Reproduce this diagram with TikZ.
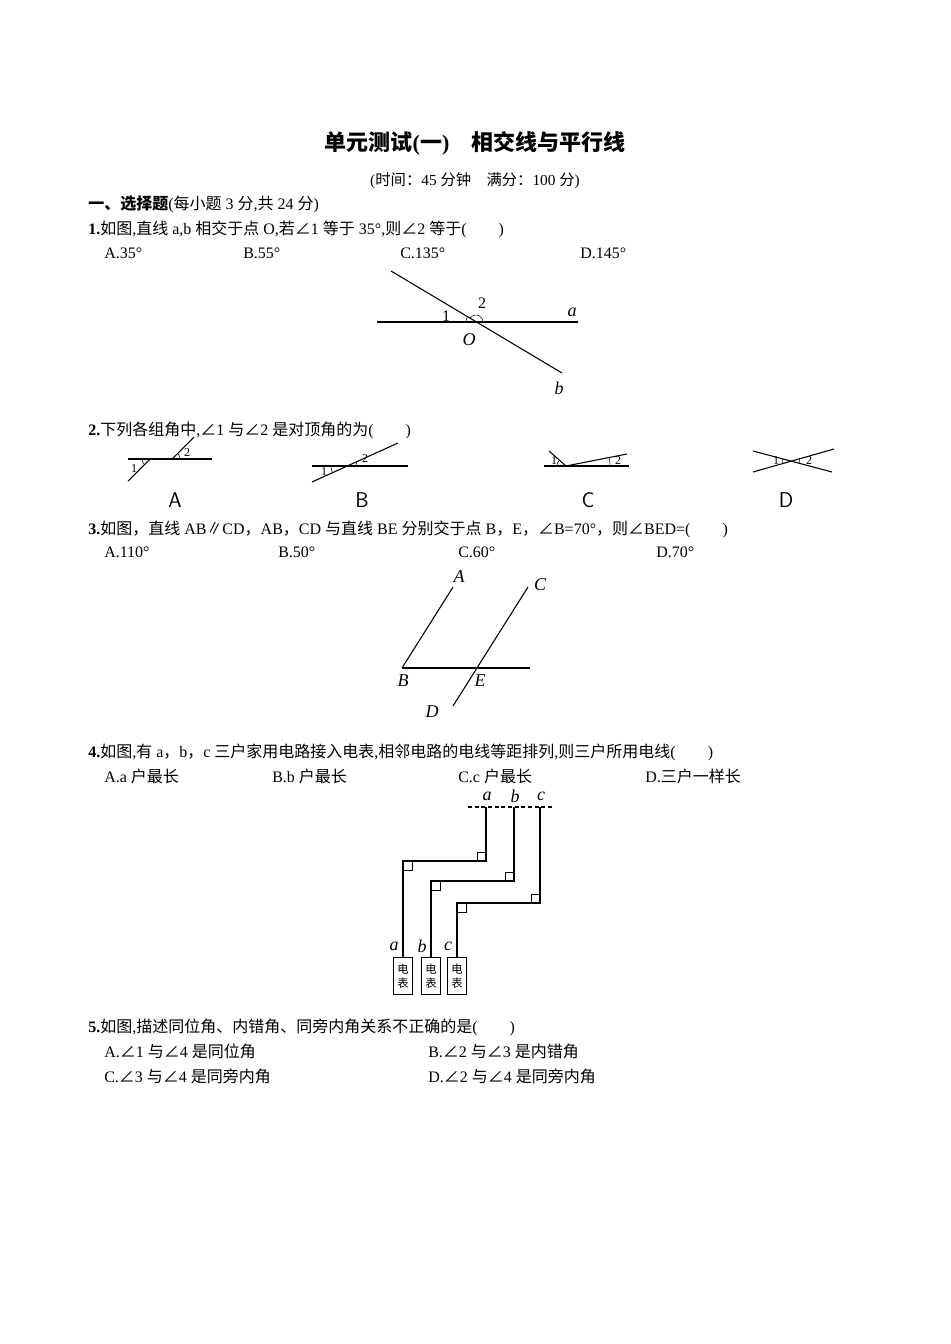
\documentclass[tikz,border=0pt]{standalone}
\usepackage{fontspec}
\setmainfont{Liberation Serif}
\newfontfamily\cjk{Noto Sans CJK SC}
\XeTeXinterchartokenstate=1
\newXeTeXintercharclass\cjkcls
\newcount\cjkc
\def\cjkrange#1#2{\cjkc=#1 \loop \XeTeXcharclass\cjkc=\cjkcls \advance\cjkc 1 \ifnum\cjkc<#2 \repeat}
\cjkrange{"4E00}{"9FA6}
\cjkrange{"3000}{"3040}
\cjkrange{"FF00}{"FFF0}
\XeTeXcharclass"2220=\cjkcls
\XeTeXcharclass"2225=\cjkcls
\XeTeXinterchartoks 0 \cjkcls = {\begingroup\cjk}
\XeTeXinterchartoks 4095 \cjkcls = {\begingroup\cjk}
\XeTeXinterchartoks \cjkcls 0 = {\endgroup}
\XeTeXinterchartoks \cjkcls 4095 = {\endgroup}
\tikzset{
  txt/.style={anchor=west, inner sep=0pt, font=\fontsize{12}{14}\selectfont},
  lbl/.style={inner sep=0pt, font=\fontsize{13.5}{15}\selectfont\itshape},
  sml/.style={inner sep=0pt, font=\fontsize{9}{10}\selectfont},
  opt/.style={inner sep=0pt, font=\fontsize{16}{18}\sffamily},
  ln/.style={line width=0.8pt},
}
\begin{document}
\begin{tikzpicture}[x=0.75pt, y=-0.75pt]
  \useasboundingbox (0,0) rectangle (950,1344);
  % heading
  \node[inner sep=0pt, font=\fontsize{16.5}{20}\selectfont\bfseries] (title) at (475,143) {单元测试(一)　相交线与平行线};
  \node[inner sep=0pt, font=\fontsize{11.5}{13}\selectfont] (time) at (475,181) {(时间：45 分钟　满分：100 分)};
  \node[txt] (sec) at (88,204) {\textbf{一、选择题}(每小题 3 分,共 24 分)};
  % question 1
  \node[txt] (q1) at (88,229) {\textbf{1.}如图,直线 a,b 相交于点 O,若∠1 等于 35°,则∠2 等于(　　)};
  \node[txt] (q1a) at (104,253) {A.35°};
  \node[txt] (q1b) at (243,253) {B.55°};
  \node[txt] (q1c) at (400,253) {C.135°};
  \node[txt] (q1d) at (580,253) {D.145°};
  \coordinate (o) at (476,322);
  \coordinate (al) at (377,322);
  \coordinate (ar) at (578,322);
  \coordinate (bt) at (391,271);
  \coordinate (bb) at (562,373);
  \draw[ln] (al) -- (ar);
  \draw[ln] (bt) -- (bb);
  \draw ([shift={(180:10)}]o) arc[start angle=180, end angle=211, radius=10];
  \draw ([shift={(211:7)}]o) arc[start angle=211, end angle=360, radius=7];
  \node[sml, font=\fontsize{12}{14}\selectfont] (one) at (446,316) {1};
  \node[sml, font=\fontsize{12}{14}\selectfont] (two) at (482,303) {2};
  \node[lbl] (la) at (572,312) {a};
  \node[lbl] (lo) at (469,340) {O};
  \node[lbl] (lb) at (559,388) {b};
  % question 2
  \node[txt] (q2) at (88,430) {\textbf{2.}下列各组角中,∠1 与∠2 是对顶角的为(　　)};
  % A
  \coordinate (pa1) at (150,459);
  \coordinate (pa2) at (172,459);
  \draw[ln] (128,459) -- (212,459);
  \draw[ln] (128,481) -- (pa1);
  \draw[ln] (pa2) -- (194,437);
  \draw ([shift={(135:8)}]pa1) arc[start angle=135, end angle=180, radius=8];
  \draw ([shift={(-45:8)}]pa2) arc[start angle=-45, end angle=0, radius=8];
  \node[sml] (a1) at (134,469) {1};
  \node[sml] (a2) at (187,453) {2};
  \node[opt] (ca) at (175,500) {A};
  % B
  \coordinate (pb) at (347,466);
  \draw[ln] (312,466) -- (408,466);
  \draw[ln] (312,482) -- (398,443);
  \draw ([shift={(155:16)}]pb) arc[start angle=155, end angle=180, radius=16];
  \draw ([shift={(-25:10)}]pb) arc[start angle=-25, end angle=0, radius=10];
  \node[sml] (b1) at (324,472) {1};
  \node[sml] (b2) at (365,459) {2};
  \node[opt] (cb) at (362,500) {B};
  % C
  \coordinate (pc) at (566,466);
  \draw[ln] (544,466) -- (629,466);
  \draw[ln] (549,451) -- (pc) -- (627,454);
  \draw ([shift={(180:9)}]pc) arc[start angle=180, end angle=221, radius=9];
  \draw ([shift={(-11:44)}]pc) arc[start angle=-11, end angle=0, radius=44];
  \node[sml] (c1) at (554,461) {1};
  \node[sml] (c2) at (618,461) {2};
  \node[opt] (cc) at (588,500) {C};
  % D
  \coordinate (pd) at (791,461);
  \draw[ln] (753,451) -- (832,472);
  \draw[ln] (753,472) -- (834,449);
  \draw ([shift={(164:9)}]pd) arc[start angle=164, end angle=195, radius=9];
  \draw ([shift={(-16:9)}]pd) arc[start angle=-16, end angle=15, radius=9];
  \node[sml] (d1) at (776,461) {1};
  \node[sml] (d2) at (809,461) {2};
  \node[opt] (cd) at (786,500) {D};
  % question 3
  \node[txt] (q3) at (88,529) {\textbf{3.}如图，直线 AB∥CD，AB，CD 与直线 BE 分别交于点 B，E，∠B=70°，则∠BED=(　　)};
  \node[txt] (q3a) at (104,552) {A.110°};
  \node[txt] (q3b) at (278,552) {B.50°};
  \node[txt] (q3c) at (458,552) {C.60°};
  \node[txt] (q3d) at (656,552) {D.70°};
  \coordinate (pB) at (402,668);
  \coordinate (pE) at (477,668);
  \coordinate (pA) at (453,587);
  \coordinate (pC) at (528,587);
  \coordinate (pD) at (453,706);
  \draw[ln] (pB) -- (530,668);
  \draw[ln] (pB) -- (pA);
  \draw[ln] (pD) -- (pC);
  \node[lbl] (tA) at (459,577) {A};
  \node[lbl] (tC) at (540,585) {C};
  \node[lbl] (tB) at (403,681) {B};
  \node[lbl] (tE) at (480,681) {E};
  \node[lbl] (tD) at (432,712) {D};
  % question 4
  \node[txt] (q4) at (88,752) {\textbf{4.}如图,有 a，b，c 三户家用电路接入电表,相邻电路的电线等距排列,则三户所用电线(　　)};
  \node[txt] (q4a) at (104,776) {A.a 户最长};
  \node[txt] (q4b) at (272,776) {B.b 户最长};
  \node[txt] (q4c) at (458,776) {C.c 户最长};
  \node[txt] (q4d) at (645,776) {D.三户一样长};
  \draw[ln, densely dashed] (468,807) -- (552,807);
  \foreach \name/\xt/\yc/\xb in {a/486/861/403, b/514/881/431, c/540/903/457} {
    \draw[ln] (\xt,807) -- (\xt,\yc) -- (\xb,\yc) -- (\xb,957);
    \draw (\xt-9,\yc) -- (\xt-9,\yc-9) -- (\xt,\yc-9);
    \draw (\xb,\yc+9) -- (\xb+9,\yc+9) -- (\xb+9,\yc);
    \node[lbl] (top\name) at (\xt+1,796) {\name};
    \node[lbl] (bot\name) at (\xb-9,946) {\name};
    \node[draw, thick, minimum width=14pt, minimum height=28pt, inner sep=0pt,
      font=\fontsize{8.5}{11}\selectfont, align=center, anchor=north] (box\name) at (\xb,957) {电\\表};
  }
  % question 5
  \node[txt] (q5) at (88,1027) {\textbf{5.}如图,描述同位角、内错角、同旁内角关系不正确的是(　　)};
  \node[txt] (q5a) at (104,1051) {A.∠1 与∠4 是同位角};
  \node[txt] (q5b) at (428,1051) {B.∠2 与∠3 是内错角};
  \node[txt] (q5c) at (104,1076) {C.∠3 与∠4 是同旁内角};
  \node[txt] (q5d) at (428,1076) {D.∠2 与∠4 是同旁内角};
\end{tikzpicture}
\end{document}
